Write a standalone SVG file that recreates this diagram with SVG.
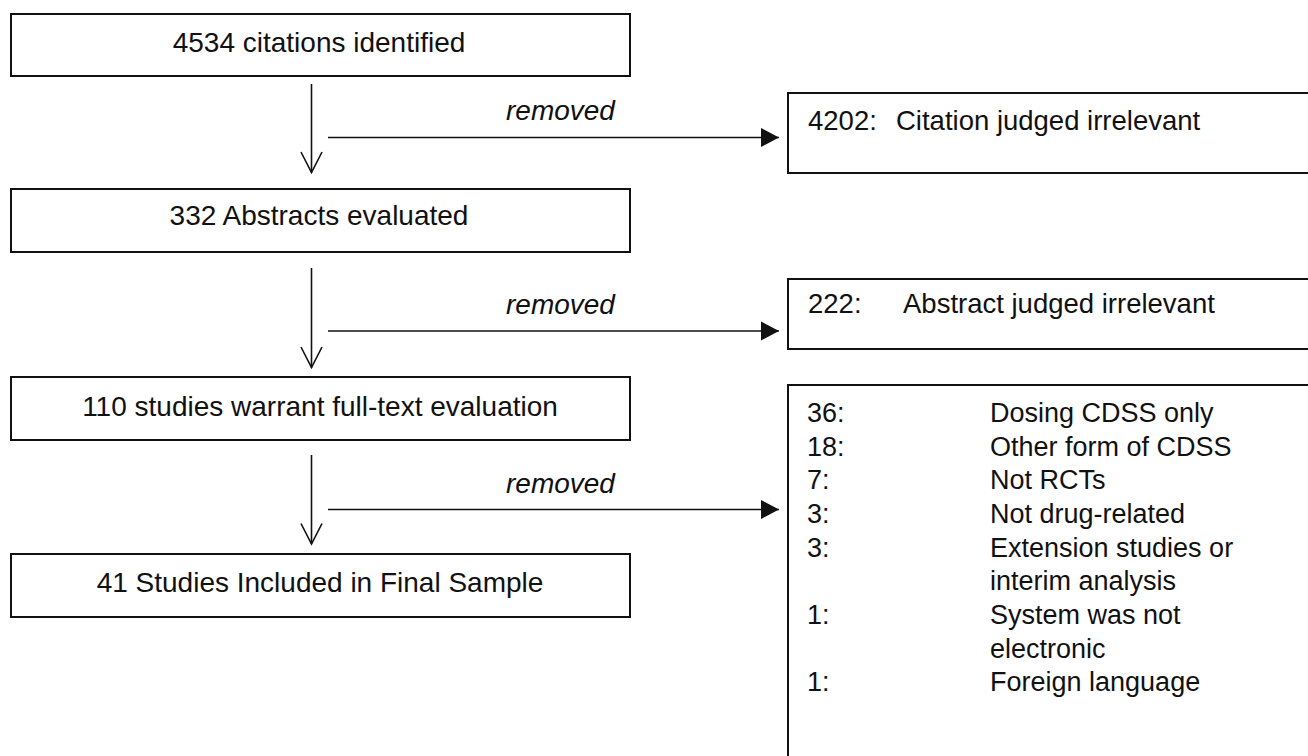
<svg xmlns="http://www.w3.org/2000/svg" width="1308" height="756" viewBox="0 0 1308 756">
  <style>
    .box { fill: #ffffff; stroke: #111111; stroke-width: 2; }
    .conn { stroke: #111111; stroke-width: 1.6; fill: none; }
    text { font-family: "Liberation Sans", Arial, Helvetica, sans-serif; fill: #111111; }
    .main { font-size: 28px; text-anchor: middle; }
    .lbl { font-size: 28px; font-style: italic; }
    .side { font-size: 27.5px; }
    .list { font-size: 27px; }
  </style>
  <defs>
    <marker id="filled" markerUnits="userSpaceOnUse" markerWidth="20" markerHeight="21" refX="18" refY="9.5" orient="auto" overflow="visible">
      <path d="M0,0 L18,9.5 L0,19 Z" fill="#111111"/>
    </marker>
    <marker id="open" markerUnits="userSpaceOnUse" markerWidth="22" markerHeight="22" refX="20.5" refY="10.5" orient="auto" overflow="visible">
      <path d="M0,0 L20.5,10.5 L0,21" fill="none" stroke="#111111" stroke-width="1.6"/>
    </marker>
  </defs>
  <rect width="1308" height="756" fill="#ffffff"/>

  <g id="n1">
    <rect class="box" x="11" y="14" width="619" height="62"/>
    <text class="main" x="319" y="52">4534 citations identified</text>
  </g>
  <g id="n2">
    <rect class="box" x="11" y="189" width="619" height="63"/>
    <text class="main" x="319" y="225">332 Abstracts evaluated</text>
  </g>
  <g id="n3">
    <rect class="box" x="11" y="377" width="619" height="63"/>
    <text class="main" x="320" y="416">110 studies warrant full-text evaluation</text>
  </g>
  <g id="n4">
    <rect class="box" x="11" y="554" width="619" height="63"/>
    <text class="main" x="320" y="592">41 Studies Included in Final Sample</text>
  </g>

  <g id="r1">
    <rect class="box" x="788" y="93" width="540" height="80"/>
    <text class="side" y="130"><tspan x="808">4202:</tspan><tspan x="896">Citation judged irrelevant</tspan></text>
  </g>
  <g id="r2">
    <rect class="box" x="788" y="279" width="540" height="70"/>
    <text class="side" y="313"><tspan x="808">222:</tspan><tspan x="903">Abstract judged irrelevant</tspan></text>
  </g>
  <g id="r3">
    <rect class="box" x="788" y="385" width="540" height="390"/>
    <text class="list">
      <tspan x="807" y="422">36:</tspan><tspan x="990" y="422">Dosing CDSS only</tspan>
      <tspan x="807" y="456">18:</tspan><tspan x="990" y="456">Other form of CDSS</tspan>
      <tspan x="807" y="489">7:</tspan><tspan x="990" y="489">Not RCTs</tspan>
      <tspan x="807" y="523">3:</tspan><tspan x="990" y="523">Not drug-related</tspan>
      <tspan x="807" y="557">3:</tspan><tspan x="990" y="557">Extension studies or</tspan>
      <tspan x="990" y="590">interim analysis</tspan>
      <tspan x="807" y="624">1:</tspan><tspan x="990" y="624">System was not</tspan>
      <tspan x="990" y="658">electronic</tspan>
      <tspan x="807" y="691">1:</tspan><tspan x="990" y="691">Foreign language</tspan>
    </text>
  </g>

  <g id="connectors">
    <line class="conn" x1="311.5" y1="84" x2="311.5" y2="172.5" marker-end="url(#open)"/>
    <line class="conn" x1="311.5" y1="268" x2="311.5" y2="367.5" marker-end="url(#open)"/>
    <line class="conn" x1="311.5" y1="455" x2="311.5" y2="544" marker-end="url(#open)"/>
    <line class="conn" x1="328" y1="137.5" x2="779" y2="137.5" marker-end="url(#filled)"/>
    <line class="conn" x1="328" y1="331" x2="779" y2="331" marker-end="url(#filled)"/>
    <line class="conn" x1="328" y1="509.5" x2="779" y2="509.5" marker-end="url(#filled)"/>
    <text class="lbl" x="506" y="120">removed</text>
    <text class="lbl" x="506" y="314">removed</text>
    <text class="lbl" x="506" y="493">removed</text>
  </g>
</svg>
